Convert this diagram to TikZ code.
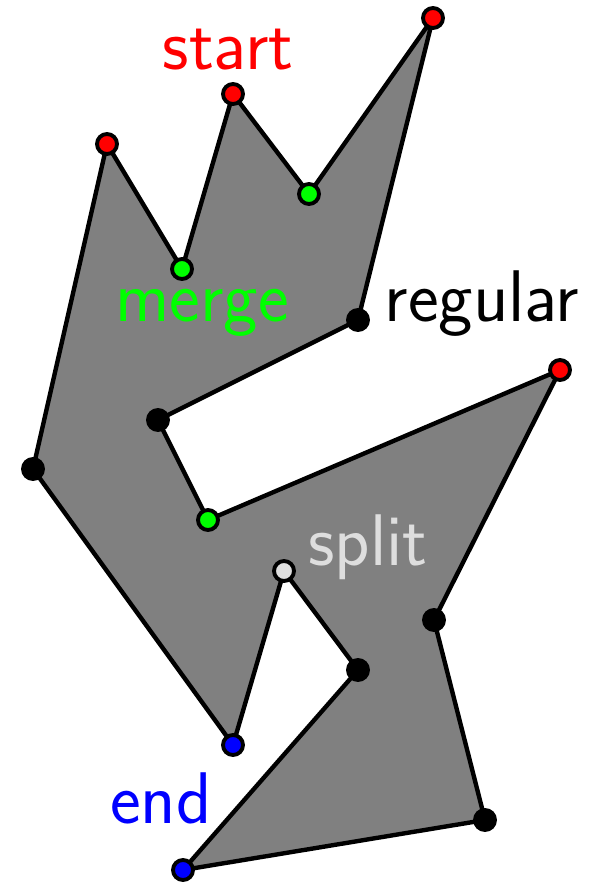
\documentclass[tikz,border=0pt]{standalone}
\usepackage{tikz}
\usetikzlibrary{positioning}
\definecolor{lgreen}{RGB}{0,255,0}
\definecolor{lsplit}{RGB}{222,222,222}

\begin{document}
\begin{tikzpicture}[x=0.01cm, y=-0.01cm,
    vtx/.style={circle, draw=black, line width=1.1pt, inner sep=0pt, minimum size=0.2cm},
    lbl/.style={anchor=base, font=\sffamily\fontsize{20.8}{25}\selectfont}]
    \useasboundingbox (0,0) rectangle (605,883);
    % Các đỉnh của đa giác
    \coordinate (p1) at (433,18);
    \coordinate (p2) at (309,194);
    \coordinate (p3) at (233,94);
    \coordinate (p4) at (182,269);
    \coordinate (p5) at (107,144);
    \coordinate (p6) at (33,469);
    \coordinate (p7) at (233,745);
    \coordinate (p8) at (284,571);
    \coordinate (p9) at (358,670);
    \coordinate (p10) at (183,870);
    \coordinate (p11) at (485,820);
    \coordinate (p12) at (434,620);
    \coordinate (p13) at (560,370);
    \coordinate (p14) at (208,520);
    \coordinate (p15) at (158,420);
    \coordinate (p16) at (358,320);

    % Vẽ đa giác
    \filldraw[fill=gray, line width=1.25pt, line join=round]
        (p1) -- (p2) -- (p3) -- (p4) -- (p5) -- (p6) -- (p7) -- (p8)
        -- (p9) -- (p10) -- (p11) -- (p12) -- (p13) -- (p14) -- (p15)
        -- (p16) -- cycle;

    % Đánh dấu các đỉnh
    \node[vtx, fill=red] (v1) at (p1) {};
    \node[vtx, fill=lgreen] (v2) at (p2) {};
    \node[vtx, fill=red] (v3) at (p3) {};
    \node[vtx, fill=lgreen] (v4) at (p4) {};
    \node[vtx, fill=red] (v5) at (p5) {};
    \node[vtx, fill=black] (v6) at (p6) {};
    \node[vtx, fill=blue] (v7) at (p7) {};
    \node[vtx, fill=lsplit] (v8) at (p8) {};
    \node[vtx, fill=black] (v9) at (p9) {};
    \node[vtx, fill=blue] (v10) at (p10) {};
    \node[vtx, fill=black] (v11) at (p11) {};
    \node[vtx, fill=black] (v12) at (p12) {};
    \node[vtx, fill=red] (v13) at (p13) {};
    \node[vtx, fill=lgreen] (v14) at (p14) {};
    \node[vtx, fill=black] (v15) at (p15) {};
    \node[vtx, fill=black] (v16) at (p16) {};

    % Nhãn
    \node[lbl, text=red] (start) at (228,70) {start};
    \node[lbl, text=lgreen] (merge) at (202,322) {merge};
    \node[lbl, text=black] (regular) at (482,322) {regular};
    \node[lbl, text=lsplit] (split) at (368,565) {split};
    \node[lbl, text=blue] (end) at (161,823) {end};
\end{tikzpicture}
\end{document}
